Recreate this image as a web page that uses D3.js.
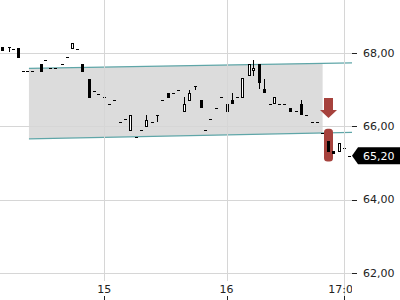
<!DOCTYPE html>
<html><head><meta charset="utf-8">
<script src="https://cdn.jsdelivr.net/npm/d3@7"></script>
<style>body{margin:0;background:#fff}svg{display:block}text{font-family:"DejaVu Sans",sans-serif}</style>
</head><body><svg id="c" width="400" height="300"></svg>
<script>
// ---- data ----
const times = ["14:09:45","14:13:00","14:15:00","14:17:45","14:20:15","14:22:15","14:24:30","14:28:45","14:31:00","14:33:30",
"14:36:00","14:39:00","14:41:30","14:44:15","14:46:45","14:49:15","14:52:15","14:54:45","14:57:00","15:00:00",
"15:02:30","15:05:00","15:07:30","15:10:15","15:12:45","15:15:45","15:18:15","15:20:30","15:23:30","15:26:00",
"15:28:30","15:31:30","15:33:45","15:36:15","15:39:00","15:41:45","15:44:30","15:47:15","15:49:30","15:52:00",
"15:55:00","15:57:30","16:00:00","16:03:00","16:05:30","16:08:00","16:11:15","16:13:45","16:16:30","16:19:00",
"16:22:15","16:24:15","16:27:00","16:29:15","16:32:15","16:35:30","16:38:00","16:40:45","16:43:45","16:46:00",
"16:48:45","16:51:45","16:54:15","16:57:15","17:00:00","17:02:15"];
const opens  = [68.16,68.16,68.11,68.14,67.51,67.51,67.51,67.71,67.83,67.59,
67.59,67.70,67.89,68.12,68.12,67.72,67.30,66.98,66.90,66.80,
66.61,66.71,66.12,66.20,65.88,65.70,65.89,65.99,66.12,66.31,
66.72,66.92,66.91,67.00,66.40,66.70,67.11,66.72,65.89,66.20,
66.50,66.80,66.61,66.73,66.80,66.79,67.39,67.51,67.70,67.02,
66.61,66.61,66.61,66.61,66.51,66.42,66.61,66.31,66.13,66.13,
65.83,65.61,65.33,65.31,65.40,65.20];
const closes = [68.06,68.16,68.11,67.86,67.51,67.51,67.51,67.50,67.83,67.59,
67.59,67.70,67.89,68.29,68.12,67.50,66.79,66.98,66.90,66.80,
66.61,66.71,66.12,66.20,66.31,65.70,65.89,66.17,66.12,66.31,
66.72,66.79,66.91,67.00,66.61,66.92,67.11,66.50,65.89,66.20,
66.50,66.80,66.40,66.61,66.80,67.32,67.70,67.59,67.18,66.91,
66.61,66.81,66.61,66.61,66.40,66.42,66.31,66.31,66.13,66.13,
65.83,65.31,65.24,65.54,65.40,65.20];
const highs  = [68.16,68.16,68.11,68.14,67.51,67.51,67.51,67.71,67.83,67.59,
67.59,67.70,67.89,68.29,68.12,67.72,67.30,66.98,66.90,66.80,
66.61,66.71,66.12,66.20,66.31,65.70,65.89,66.31,66.12,66.31,
66.72,66.92,66.91,67.00,66.80,67.01,67.11,66.72,65.89,66.20,
66.50,66.80,66.61,66.92,66.80,67.32,67.70,67.82,67.70,67.30,
66.61,66.81,66.61,66.61,66.51,66.42,66.72,66.31,66.13,66.13,
65.83,65.61,65.33,65.54,65.40,65.20];
const lows   = [68.06,68.03,68.11,67.86,67.51,67.51,67.51,67.50,67.83,67.59,
67.59,67.70,67.89,68.12,68.12,67.50,66.79,66.98,66.90,66.80,
66.61,66.71,66.12,66.20,65.88,65.70,65.89,65.99,66.12,66.13,
66.72,66.79,66.91,67.00,66.40,66.70,67.00,66.50,65.89,66.20,
66.50,66.80,66.40,66.61,66.80,66.79,67.39,67.39,67.02,66.91,
66.61,66.61,66.61,66.61,66.40,66.42,66.31,66.31,66.13,66.13,
65.83,65.31,65.24,65.31,65.40,65.20];

const yTicks = [62, 64, 66, 68];
const yTickLabels = ["62,00", "64,00", "66,00", "68,00"];
const xTicks = ["15:00", "16:00", "17:00"];
const xTickLabels = ["15", "16", "17:00"];

// trend channel
const channelTimes = ["14:23:00", "17:04:00"];
const channelFillEnd = "16:49:00";
const channelUpper = [67.59, 67.74];
const channelLower = [65.66, 65.84];

// signal
const signalTime = "16:51:45";
const signalArrow = [66.78, 66.23];     // top, tip
const signalRange = [65.94, 65.04];     // highlight top, bottom

const lastPrice = 65.20;
const lastPriceLabel = "65,20";

// ---- chart ----
const W = 400, H = 300, plotRight = 352;
const parse = s => { const p = s.split(":").map(Number); return new Date(2024, 0, 1, p[0], p[1], p[2] || 0); };
const x = d3.scaleTime().domain([parse("15:00"), parse("16:00"), parse("17:00")]).range([104.3, 226.5, 344.2]);
const y = d3.scaleLinear().domain([62, 68]).range([272.7, 53.3]);

const svg = d3.select("#c");
svg.append("rect").attr("width", W).attr("height", H).attr("fill", "#fff");
const defs = svg.append("defs");
defs.append("clipPath").attr("id", "plotclip").append("rect").attr("x", 0).attr("y", 0).attr("width", plotRight).attr("height", H);

const crisp = v => Math.round(v) + 0.5;
const plot = svg.append("g").attr("clip-path", "url(#plotclip)");

// channel fill
const ct0 = parse(channelTimes[0]), ct1 = parse(channelTimes[1]), cfe = parse(channelFillEnd);
const interp = (arr, t) => arr[0] + (arr[1] - arr[0]) * (t - ct0) / (ct1 - ct0);
plot.append("path")
  .attr("d", d3.line()([
    [x(ct0), y(channelUpper[0])], [x(cfe), y(interp(channelUpper, cfe))],
    [x(cfe), y(interp(channelLower, cfe))], [x(ct0), y(channelLower[0])]]) + "Z")
  .attr("fill", "#dcdcdc");

// gridlines
const gridColor = "#d6d6d6";
plot.selectAll("line.hg").data(yTicks).join("line")
  .attr("x1", 0).attr("x2", plotRight)
  .attr("y1", d => crisp(y(d))).attr("y2", d => crisp(y(d)))
  .attr("stroke", gridColor);
svg.selectAll("line.vg").data(xTicks).join("line")
  .attr("x1", d => crisp(x(parse(d)))).attr("x2", d => crisp(x(parse(d))))
  .attr("y1", 0).attr("y2", (d, i) => i === xTicks.length - 1 ? H : 281)
  .attr("stroke", gridColor);

// channel lines
[channelUpper, channelLower].forEach(arr => {
  plot.append("line")
    .attr("x1", x(ct0)).attr("y1", y(arr[0]))
    .attr("x2", x(ct1)).attr("y2", y(arr[1]))
    .attr("stroke", "#5fa6a8").attr("stroke-width", 1.2);
});

// signal highlight bar
const sx = x(parse(signalTime));
plot.append("rect")
  .attr("x", Math.round(sx) - 4).attr("width", 9)
  .attr("y", y(signalRange[0])).attr("height", y(signalRange[1]) - y(signalRange[0]))
  .attr("rx", 3.5).attr("fill", "#a6423d");
// arrow
const aTop = y(signalArrow[0]), aTip = y(signalArrow[1]);
const headH = 8, sw = 4.5, hw = 8.5, cxr = Math.round(sx) + 0.5;
plot.append("path")
  .attr("d", d3.line()([
    [cxr - sw, aTop], [cxr + sw, aTop], [cxr + sw, aTip - headH], [cxr + hw, aTip - headH],
    [cxr, aTip], [cxr - hw, aTip - headH], [cxr - sw, aTip - headH]]) + "Z")
  .attr("fill", "#a6423d");

// candles
const candles = times.map((t, i) => ({ t: parse(t), o: opens[i], h: highs[i], l: lows[i], c: closes[i] }));
const cg = plot.append("g");
candles.forEach(d => {
  const xi = Math.round(x(d.t));
  const yo = Math.round(y(d.o)), yc = Math.round(y(d.c));
  const yh = Math.round(y(d.h)), yl = Math.round(y(d.l));
  const top = Math.min(yo, yc), bot = Math.max(yo, yc);
  if (yh < top || yl > bot) {
    cg.append("line").attr("x1", xi + 0.5).attr("x2", xi + 0.5)
      .attr("y1", yh).attr("y2", yl).attr("stroke", "#000");
  }
  if (bot - top <= 1) {
    cg.append("rect").attr("x", xi - 1).attr("width", 3).attr("y", top).attr("height", 1).attr("fill", "#000");
  } else if (d.c > d.o) {
    cg.append("rect").attr("x", xi - 0.5).attr("width", 2).attr("y", top + 0.5).attr("height", bot - top - 1)
      .attr("fill", "#fff").attr("stroke", "#000");
  } else {
    cg.append("rect").attr("x", xi - 1).attr("width", 3).attr("y", top).attr("height", bot - top).attr("fill", "#000");
  }
});

// y axis
const ya = svg.append("g");
ya.selectAll("line").data(yTicks).join("line")
  .attr("x1", plotRight).attr("x2", plotRight + 5)
  .attr("y1", d => crisp(y(d))).attr("y2", d => crisp(y(d)))
  .attr("stroke", "#222");
ya.selectAll("text").data(yTicks).join("text")
  .attr("x", plotRight + 11).attr("y", d => y(d)).attr("dy", "0.35em")
  .attr("font-size", 11).attr("fill", "#222")
  .text((d, i) => yTickLabels[i]);

// x axis
const xa = svg.append("g").attr("clip-path", "url(#plotclip)");
xa.selectAll("text").data(xTicks).join("text")
  .attr("x", d => x(parse(d))).attr("y", 289).attr("dy", "0.35em")
  .attr("text-anchor", "middle").attr("font-size", 11).attr("fill", "#222")
  .text((d, i) => xTickLabels[i]);
xa.selectAll("line").data(xTicks).join("line")
  .attr("x1", d => crisp(x(parse(d)))).attr("x2", d => crisp(x(parse(d))))
  .attr("y1", 296).attr("y2", 300).attr("stroke", "#222");

// last price label
const yp = y(lastPrice);
svg.append("path")
  .attr("d", d3.line()([[plotRight, yp], [plotRight + 6, yp - 8.5], [W, yp - 8.5], [W, yp + 8.5], [plotRight + 6, yp + 8.5]]) + "Z")
  .attr("fill", "#000");
svg.append("text").attr("x", plotRight + 11).attr("y", yp).attr("dy", "0.35em")
  .attr("font-size", 11).attr("fill", "#fff").text(lastPriceLabel);
</script></body></html>
